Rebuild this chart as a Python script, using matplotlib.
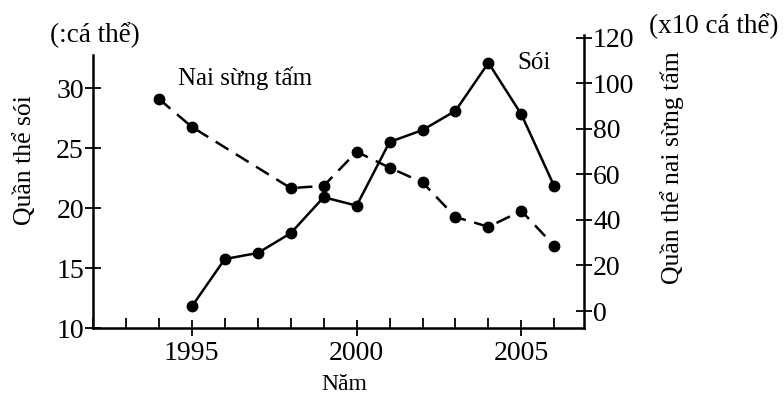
import matplotlib.pyplot as plt
from matplotlib.ticker import MultipleLocator

plt.rcParams['font.family'] = ['Liberation Serif', 'DejaVu Serif']

# wolf population (individuals), left axis
wolf_years = [1995, 1996, 1997, 1998, 1999, 2000, 2001, 2002, 2003, 2004, 2005, 2006]
wolf = [11.8, 15.75, 16.25, 17.9, 20.9, 20.2, 25.5, 26.5, 28.1, 32.1, 27.8, 21.8]

# moose population (x10 individuals), right axis
moose_years = [1994, 1995, 1998, 1999, 2000, 2001, 2002, 2003, 2004, 2005, 2006]
moose = [93.2, 80.9, 54.0, 55.0, 70.0, 63.0, 56.5, 41.3, 37.0, 44.0, 28.6]

left_ticks = [10, 15, 20, 25, 30]
right_ticks = [0, 20, 40, 60, 80, 100, 120]
year_ticks = [1995, 2000, 2005]

fig = plt.figure(figsize=(7.84, 4.01), dpi=100)
ax = fig.add_axes([93/784, 1-328/401, (584-93)/784, (328-35)/401])
ax2 = ax.twinx()

ax.plot(wolf_years, wolf, color='black', lw=1.8, marker='o', ms=7.5)
ax2.plot(moose_years, moose, color='black', lw=1.8, marker='o', ms=7.5,
         dashes=(6, 3.5))

ax.set_xlim(1992, 2006.9)
ax.set_ylim(10, 34.42)
ax2.set_ylim(-7.47, 121.3)

for a in (ax, ax2):
    a.spines['top'].set_visible(False)
    for s in a.spines.values():
        s.set_linewidth(1.8)
ax.spines['right'].set_visible(False)
ax2.spines['left'].set_visible(False)
ax2.spines['bottom'].set_visible(False)
ax.spines['left'].set_bounds(10, 32.75)
ax2.spines['right'].set_bounds(-7.47, 121.3)

ax.set_yticks(left_ticks)
ax2.set_yticks(right_ticks)
ax.set_xticks(year_ticks)
ax.xaxis.set_minor_locator(MultipleLocator(1))

ax.tick_params(axis='y', direction='inout', length=11, width=1.3,
               labelsize=20, pad=1)
ax2.tick_params(axis='y', direction='inout', length=11, width=1.3,
                labelsize=20, pad=1)
ax.tick_params(axis='x', which='major', direction='inout', length=12,
               width=1.3, labelsize=20, pad=3)
ax.tick_params(axis='x', which='minor', direction='in', length=7, width=1.3)

fig.text(50/784, 1-35/401, '(:cá thể)', fontsize=19.5, va='center', ha='left')
fig.text(649/784, 1-26/401, '(x10 cá thể)', fontsize=19.5, va='center', ha='left')
fig.text(25/784, 1-160/401, 'Quần thể sói', fontsize=18.5, rotation=90,
         va='center', ha='center')
fig.text(672/784, 1-168/401, 'Quần thể nai sừng tấm', fontsize=18.5, rotation=90,
         va='center', ha='center')
fig.text(344/784, 1-384/401, 'Năm', fontsize=17, va='center', ha='center')
fig.text(178/784, 1-78/401, 'Nai sừng tấm', fontsize=18, va='center', ha='left')
fig.text(517/784, 1-63/401, 'Sói', fontsize=18, va='center', ha='left')

fig.savefig('out.png', dpi=100)
